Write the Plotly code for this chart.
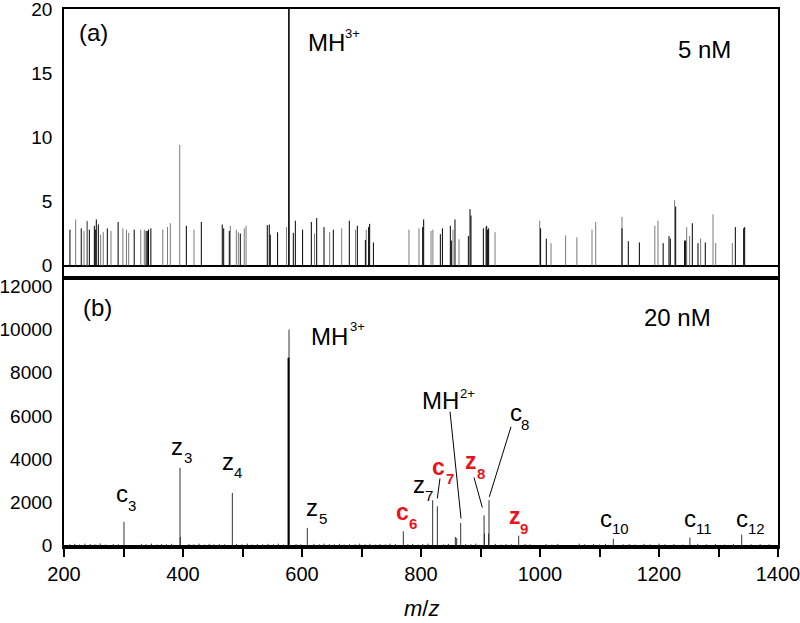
import plotly.graph_objects as go

# ---------------- data ----------------
# Panel (a): 5 nM, stick spectrum (two colour groups)
a_gray_mz = [219.6, 233.6, 238.5, 239.5, 261.6, 266, 279, 299, 305, 308.7, 329, 335, 366, 374, 378.7,
             394.5, 418.5, 479.5, 489.6, 493, 503, 506, 574, 621, 646.5, 666.7, 690, 708, 779.8, 796.6,
             816.8, 820, 853.8, 863.9, 908.7, 924.4, 999.5, 1018.5, 1043, 1062, 1087.4, 1093.6, 1137.8,
             1193, 1198.3, 1226.3, 1246.5, 1251.5, 1270, 1290.8, 1295.3, 1323.3]
a_gray_int = [3.6, 2.7, 3.5, 3.45, 2.4, 2.6, 2.7, 2.9, 2.8, 2.55, 2.8, 2.8, 2.8, 3.0, 3.3,
              9.4, 2.8, 3.1, 2.8, 2.6, 2.9, 3.1, 3.0, 2.5, 2.6, 2.9, 2.8, 2.8, 2.8, 2.9,
              2.7, 2.8, 2.8, 2.05, 3.0, 2.6, 3.5, 1.75, 2.35, 2.2, 2.8, 3.4, 3.8,
              3.1, 3.5, 5.1, 3.0, 2.3, 2.1, 4.0, 1.75, 1.75]
a_black_mz = [210, 229, 242.6, 251, 252.6, 254.3, 257.7, 272.8, 291, 318, 338, 340, 342, 346, 405.6,
              430.8, 466, 468.4, 477.8, 496.3, 541.7, 545, 546.7, 559, 585.4, 588.8, 601, 615.7, 624.7,
              637, 652.6, 679.5, 693, 706.5, 712, 713.7, 720, 802.8, 804.5, 832.5, 836, 849.3, 851,
              857.1, 879.6, 882.4, 884, 904.8, 910.4, 912, 913.7, 1001, 1010.6, 1137.8, 1148.4, 1167,
              1207, 1216.8, 1219, 1228, 1243, 1244.8, 1256, 1265.5, 1277.8, 1328.3, 1342.3, 1344]
a_black_int = [2.8, 2.9, 2.8, 3.1, 2.8, 3.6, 3.2, 2.9, 3.4, 2.8, 2.7, 2.7, 2.8, 2.9, 3.1,
               3.4, 3.2, 2.9, 2.7, 2.5, 3.15, 3.2, 2.4, 2.6, 2.55, 3.5, 2.8, 3.4, 3.7,
               3.0, 2.8, 3.5, 3.1, 2.0, 3.0, 3.25, 1.8, 3.0, 3.6, 2.45, 2.9, 3.1, 1.95,
               3.6, 2.3, 4.4, 3.9, 2.9, 3.1, 2.8, 2.9, 2.9, 2.1, 2.9, 1.9, 1.8,
               1.75, 2.3, 2.1, 4.6, 1.95, 1.95, 3.3, 1.75, 1.8, 3.0, 2.9, 3.0]
a_parent_mz = [578.0]
a_parent_int = [60.0]

# Panel (b): 20 nM
b_main_mz = [577.4]
b_main_int = [8700]
b_peak_mz = [300.8, 395.0, 395.5, 482.9, 578.2, 608.9, 770.3, 819.6, 827.5, 857.7, 860.0, 866.7,
             906.0, 906.7, 913.6, 914.3, 964.2, 1123.2, 1252.0, 1339.0]
b_peak_int = [1100, 3600, 400, 2440, 10000, 820, 660, 2100, 1820, 400, 350, 1050,
              1400, 560, 560, 2100, 460, 320, 370, 510]
b_noise_mz = [210, 218, 226, 235, 244, 252, 261, 270, 283, 291, 330, 338, 347, 356, 364, 372, 381,
              410, 418, 427, 436, 444, 452, 461, 470, 490, 499, 508, 516, 525, 534, 543, 552, 560,
              569, 590, 598, 620, 629, 637, 646, 654, 663, 671, 680, 689, 697, 706, 714, 723, 731,
              740, 748, 757, 778, 786, 795, 803, 812, 838, 846, 875, 884, 892, 925, 934, 943, 952,
              975, 983, 1010, 1020, 1030, 1066, 1075, 1090, 1100, 1110, 1140, 1150, 1160, 1175,
              1185, 1200, 1210, 1225, 1240, 1265, 1280, 1295, 1310, 1325, 1355, 1370, 1385]
b_noise_int = [60, 80, 50, 90, 70, 60, 100, 50, 70, 60, 80, 60, 90, 50, 70, 60, 80,
               70, 60, 90, 50, 80, 60, 70, 60, 80, 60, 90, 50, 70, 60, 80, 60, 90,
               50, 70, 60, 80, 60, 90, 70, 60, 80, 50, 70, 60, 90, 60, 80, 50, 70,
               60, 90, 70, 60, 80, 50, 70, 90, 60, 80, 70, 60, 90, 80, 50, 70, 60,
               80, 60, 70, 50, 80, 90, 60, 70, 50, 80, 60, 70, 50, 80,
               60, 90, 60, 70, 50, 80, 60, 70, 50, 80, 60, 70, 60]

x_ticks = [200, 300, 400, 500, 600, 700, 800, 900, 1000, 1100, 1200, 1300, 1400]
x_ticktext = ["200", "", "400", "", "600", "", "800", "", "1000", "", "1200", "", "1400"]
ya_ticks = [0, 5, 10, 15, 20]
ya_ticktext = ["0", "5", "10", "15", "20"]
yb_ticks = [0, 2000, 4000, 6000, 8000, 10000, 12000]
yb_ticktext = ["0", "2000", "4000", "6000", "8000", "10000", "12000"]

# ---------------- helpers ----------------
def sticks(xs, hs):
    X, Y = [], []
    for x, h in zip(xs, hs):
        X += [x, x, None]
        Y += [0, h, None]
    return X, Y

FONT = "Arial, Liberation Sans, sans-serif"
GRAY = "#7a7a7a"
RED = "#e8141c"

fig = go.Figure()

def add_sticks(xs, hs, color, width, xa, ya):
    X, Y = sticks(xs, hs)
    fig.add_trace(go.Scatter(x=X, y=Y, mode="lines", line=dict(color=color, width=width),
                             xaxis=xa, yaxis=ya, showlegend=False, hoverinfo="skip"))

# panel (a)
add_sticks(a_gray_mz, a_gray_int, GRAY, 1, "x", "y")
add_sticks(a_black_mz, a_black_int, "black", 1, "x", "y")
add_sticks(a_parent_mz, a_parent_int, "black", 1.6, "x", "y")
# panel (b)
add_sticks(b_noise_mz, b_noise_int, "#333333", 1, "x2", "y2")
add_sticks(b_peak_mz, b_peak_int, "#333333", 1, "x2", "y2")
add_sticks(b_main_mz, b_main_int, "black", 2, "x2", "y2")

ann = []
def txt(x, y, s, size, xa="x2", ya="y2", color="black", bold=False, xanchor="center"):
    if bold:
        s = "<b>" + s + "</b>"
    ann.append(dict(x=x, y=y, xref=xa, yref=ya, text=s, showarrow=False,
                    xanchor=xanchor, yanchor="middle",
                    font=dict(family=FONT, size=size, color=color)))

# panel (a) labels
txt(250.4, 18.2, "(a)", 24, "x", "y")
txt(641.2, 17.4, "MH", 24, "x", "y")
txt(685.0, 18.1, "3+", 13, "x", "y")
txt(1275.7, 16.85, "5 nM", 24, "x", "y")

# panel (b) labels
txt(257.1, 11011, "(b)", 24)
txt(646.1, 9688, "MH", 24)
txt(692.5, 10129, "3+", 13)
txt(1231.1, 10547, "20 nM", 24)
txt(833.6, 6696, "MH", 24)
txt(878.5, 7021, "2+", 13)

frag = [
    # main letter, sub, x_main, y_main, x_sub, y_sub, red
    ("c", "3", 297.5, 2427, 314.3, 1870, False),
    ("z", "3", 389.9, 4608, 407.6, 4097, False),
    ("z", "4", 475.6, 3911, 492.4, 3401, False),
    ("z", "5", 616.8, 1777, 634.5, 1267, False),
    ("c", "6", 768.1, 1545, 786.6, 1035, True),
    ("z", "7", 796.6, 2844, 813.5, 2334, False),
    ("c", "7", 828.6, 3633, 848.8, 3123, True),
    ("z", "8", 883.2, 3911, 900.8, 3355, True),
    ("c", "8", 959.7, 6185, 974.8, 5628, False),
    ("z", "9", 958.0, 1360, 973.1, 803, True),
    ("c", "10", 1111.0, 1266, 1135.3, 803, False),
    ("c", "11", 1252.1, 1266, 1274.8, 803, False),
    ("c", "12", 1339.5, 1266, 1363.9, 803, False),
]
for m, s, xm, ym, xs_, ys_, red in frag:
    col = RED if red else "black"
    txt(xm, ym, m, 24 if not red else 23, color=col, bold=red)
    txt(xs_, ys_, s, 15, color=col, bold=red)

# axis title
ann.append(dict(x=0.5, y=-0.114, xref="paper", yref="paper", showarrow=False,
                text="<i>m</i>/<i>z</i>", xanchor="center", yanchor="middle",
                font=dict(family=FONT, size=22, color="black")))

# leader lines
leaders = [
    (848.8, 6199, 867.3, 1253),
    (951.3, 5503, 914.8, 2255),
    (889.1, 3155, 903.1, 1763),
    (831.9, 3109, 827.4, 2181),
]
shapes = [dict(type="line", xref="x2", yref="y2", x0=a, y0=b, x1=c, y1=d,
               line=dict(color="black", width=1)) for a, b, c, d in leaders]

axis_common = dict(showline=True, linecolor="black", linewidth=1.6, mirror=True,
                   showgrid=False, automargin=False, ticklabeloverflow="allow")

fig.update_layout(
    width=800, height=623,
    margin=dict(l=64, r=22, t=9, b=76, autoexpand=False),
    paper_bgcolor="white", plot_bgcolor="white",
    font=dict(family=FONT, size=19, color="black"),
    annotations=ann, shapes=shapes,
    xaxis=dict(domain=[0, 1], anchor="y", range=[200, 1400], showticklabels=False,
               ticks="", zeroline=False, **axis_common),
    yaxis=dict(domain=[0.5, 1], anchor="x", range=[-0.97, 20], tickvals=ya_ticks,
               ticktext=ya_ticktext, ticks="", ticklabelstandoff=6, zeroline=True,
               zerolinecolor="black", zerolinewidth=1.5, tickfont=dict(size=19), **axis_common),
    xaxis2=dict(domain=[0, 1], anchor="y2", range=[200, 1400], tickvals=x_ticks,
                ticktext=x_ticktext, ticks="outside", ticklen=8, tickwidth=1.6,
                tickcolor="black", ticklabelstandoff=0, zeroline=False,
                tickfont=dict(size=20), **axis_common),
    yaxis2=dict(domain=[0, 0.5], anchor="x2", range=[-65, 12390], tickvals=yb_ticks,
                ticktext=yb_ticktext, ticks="", ticklabelstandoff=6, zeroline=True,
                zerolinecolor="black", zerolinewidth=1.5, tickfont=dict(size=19), **axis_common),
)

fig.write_html("out.html", config={"displayModeBar": False},
               post_script="document.body.style.margin='0';document.body.style.padding='0';")
